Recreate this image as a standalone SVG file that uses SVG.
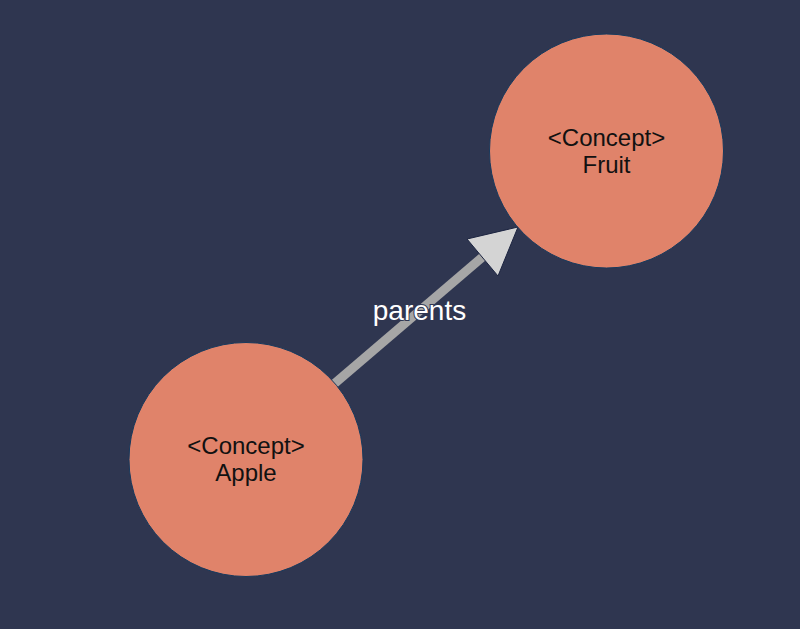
<svg xmlns="http://www.w3.org/2000/svg" width="800" height="629" viewBox="0 0 800 629">
<style>
.node circle{fill:#e0836a;stroke:#173a5e;stroke-width:1}
.node text{font-family:"Liberation Sans",Arial,sans-serif;font-size:24px;fill:#111;text-anchor:middle}
.edge line{stroke:#a6a6a6;stroke-width:9}
.edge polygon{fill:#d4d4d4;stroke:#1c2440;stroke-width:1}
.label{font-family:"Liberation Sans",Arial,sans-serif;font-size:28px;fill:#fff;text-anchor:middle;stroke:#2f3650;stroke-width:2;paint-order:stroke}
</style>
<rect width="800" height="629" fill="#2f3650"/>
<g id="connectors">
<g class="edge">
<line x1="334" y1="384" x2="486" y2="254"/>
<polygon points="518,227 467,239 498,276"/>
<text class="label" x="419.5" y="320">parents</text>
</g>
</g>
<g id="node-fruit" class="node">
<circle cx="606.5" cy="151" r="117"/>
<text x="606.5" y="146">&lt;Concept&gt;</text>
<text x="606.5" y="172.5">Fruit</text>
</g>
<g id="node-apple" class="node">
<circle cx="246" cy="459.5" r="117"/>
<text x="246" y="454">&lt;Concept&gt;</text>
<text x="246" y="480.5">Apple</text>
</g>
</svg>
